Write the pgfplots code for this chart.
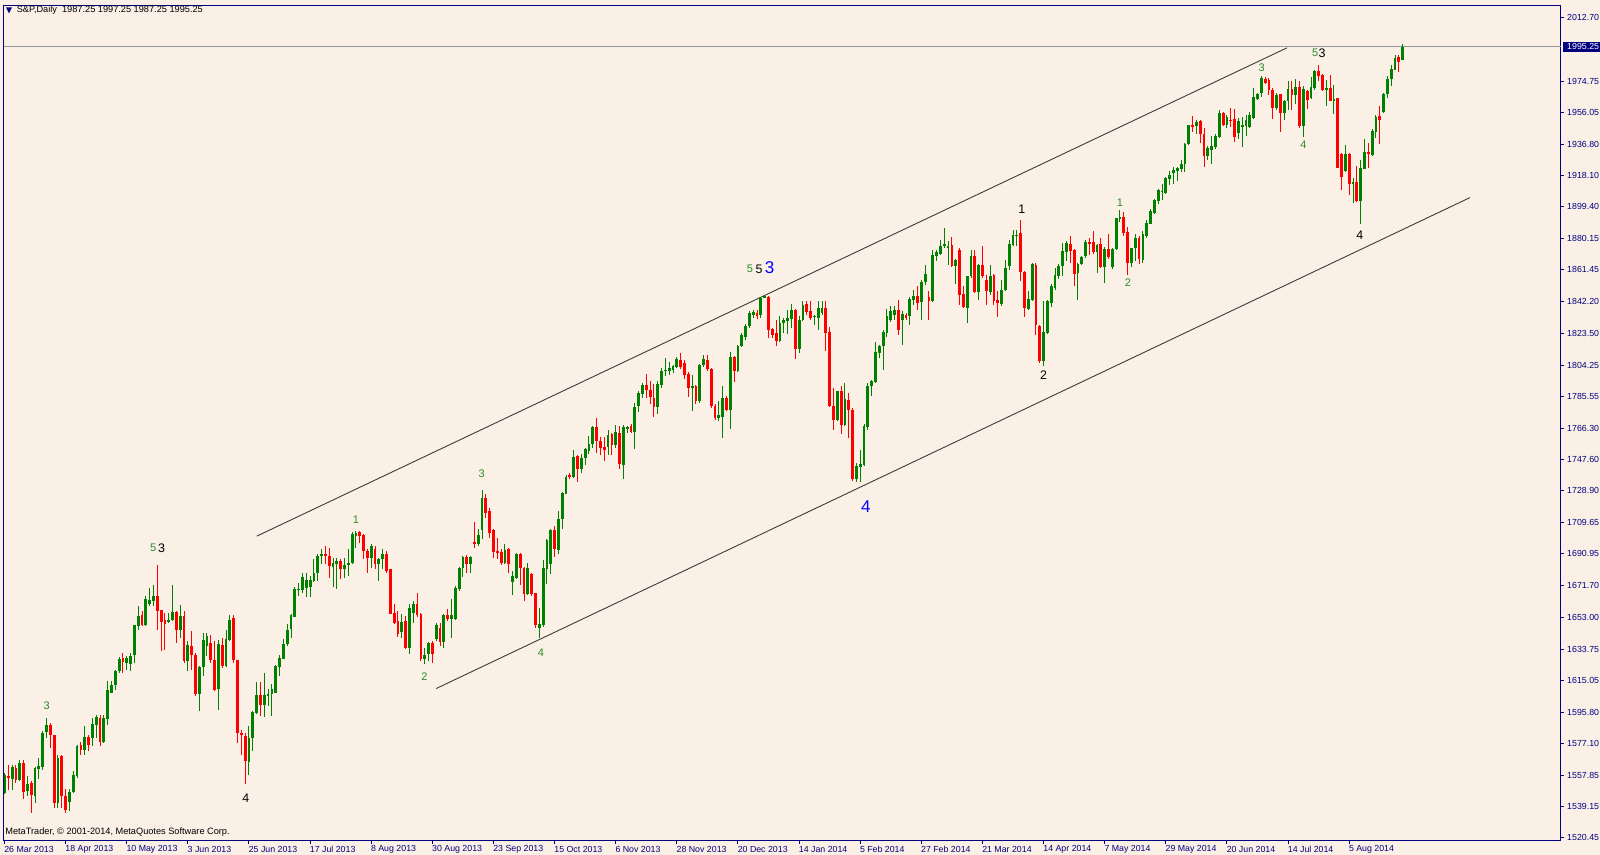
\documentclass[border=0pt]{standalone}
\usepackage{pgfplots}
\pgfplotsset{compat=1.18}
\usepackage{pgfplotstable}
\usepackage{fontspec}
\setmainfont{Liberation Sans}
\definecolor{bg}{RGB}{250,240,230}
\definecolor{navyc}{RGB}{0,0,128}
\definecolor{upc}{RGB}{0,128,0}
\definecolor{dnc}{RGB}{255,0,0}
\definecolor{wavegreen}{RGB}{40,140,40}
\definecolor{waveblue}{RGB}{0,0,255}
\definecolor{chan}{RGB}{60,60,60}
\definecolor{pline}{RGB}{150,150,160}
\pgfplotstableread{
i o h l c
0 1547.5 1559.5 1546.5 1558.0
1 1557.5 1564.5 1549.5 1557.0
2 1556.0 1564.5 1549.5 1563.0
3 1562.5 1564.5 1553.5 1555.0
4 1555.5 1567.5 1554.5 1565.5
5 1565.5 1567.5 1543.5 1548.0
6 1548.5 1557.5 1545.5 1553.0
7 1553.5 1554.5 1535.5 1546.0
8 1545.5 1563.0 1541.5 1562.5
9 1562.0 1568.5 1555.5 1563.5
10 1563.0 1584.5 1561.5 1583.5
11 1584.0 1592.5 1580.5 1588.0
12 1588.5 1589.5 1574.5 1582.0
13 1582.0 1582.5 1538.5 1541.5
14 1541.5 1570.0 1538.5 1568.5
15 1569.5 1570.0 1538.5 1545.5
16 1545.5 1549.5 1535.5 1537.5
17 1542.0 1549.5 1536.5 1548.0
18 1548.0 1560.5 1547.5 1558.0
19 1557.5 1576.5 1556.5 1575.5
20 1576.0 1578.0 1570.5 1573.5
21 1573.5 1587.5 1570.5 1581.0
22 1581.0 1582.0 1572.5 1576.5
23 1580.5 1592.5 1575.5 1589.0
24 1588.0 1594.5 1580.5 1593.0
25 1592.5 1594.5 1575.5 1578.0
26 1578.0 1594.0 1577.5 1592.5
27 1592.0 1614.5 1588.5 1609.0
28 1607.5 1614.5 1607.5 1612.5
29 1612.5 1621.5 1609.5 1620.5
30 1620.5 1629.0 1619.5 1628.0
31 1628.5 1631.5 1619.5 1626.0
32 1625.5 1629.5 1621.5 1628.5
33 1625.0 1631.5 1620.5 1629.5
34 1630.0 1648.5 1625.5 1648.0
35 1647.5 1659.5 1645.5 1653.5
36 1654.5 1656.5 1647.5 1648.5
37 1648.5 1665.5 1647.5 1664.0
38 1661.0 1670.5 1659.5 1663.5
39 1662.5 1672.5 1659.5 1665.5
40 1665.5 1684.5 1645.5 1656.5
41 1657.0 1657.5 1632.5 1650.0
42 1651.0 1655.5 1633.5 1649.0
43 1650.0 1655.5 1649.5 1651.5
44 1651.5 1672.5 1650.5 1656.0
45 1656.0 1656.5 1637.5 1645.0
46 1645.5 1660.5 1640.5 1653.5
47 1653.5 1656.5 1625.5 1626.5
48 1626.5 1638.5 1620.5 1636.5
49 1635.5 1644.5 1621.5 1630.0
50 1630.5 1631.5 1605.5 1607.0
51 1607.0 1623.5 1596.5 1623.0
52 1623.0 1643.5 1617.5 1639.5
53 1635.5 1643.5 1629.5 1641.5
54 1637.5 1642.5 1625.5 1627.5
55 1627.5 1638.5 1608.5 1609.5
56 1610.0 1639.0 1597.5 1637.0
57 1636.5 1640.5 1622.5 1623.5
58 1623.5 1645.5 1623.0 1640.0
59 1639.5 1654.5 1638.5 1651.5
60 1652.5 1654.5 1625.5 1627.5
61 1627.5 1627.5 1577.5 1583.5
62 1583.5 1585.5 1570.0 1582.5
63 1581.5 1583.5 1552.5 1566.5
64 1566.0 1587.5 1558.0 1580.5
65 1580.2 1596.6 1572.6 1596.0
66 1595.6 1614.0 1594.6 1606.0
67 1606.0 1614.0 1593.6 1600.0
68 1600.0 1619.6 1593.2 1606.0
69 1605.6 1609.6 1599.6 1607.0
70 1606.6 1612.6 1593.6 1610.0
71 1607.6 1624.0 1607.6 1623.6
72 1623.0 1630.0 1617.6 1628.6
73 1627.6 1639.6 1627.6 1637.0
74 1636.6 1648.6 1635.6 1645.0
75 1645.6 1654.6 1640.6 1654.0
76 1653.2 1671.0 1653.0 1669.6
77 1669.2 1673.6 1665.6 1670.0
78 1669.2 1679.6 1667.6 1677.0
79 1670.6 1679.6 1665.2 1675.2
80 1671.0 1677.6 1665.0 1675.2
81 1674.6 1688.0 1674.0 1679.6
82 1679.6 1690.6 1674.6 1689.6
83 1689.6 1693.6 1684.6 1690.6
84 1690.6 1695.6 1684.6 1689.6
85 1689.6 1694.6 1676.6 1683.6
86 1683.2 1688.6 1671.2 1685.2
87 1684.6 1688.6 1669.6 1686.6
88 1686.6 1688.0 1676.0 1681.6
89 1681.6 1688.6 1676.6 1684.0
90 1684.0 1693.6 1677.6 1685.2
91 1685.2 1704.0 1684.6 1702.6
92 1701.6 1704.6 1694.6 1703.2
93 1704.0 1704.6 1697.6 1701.6
94 1702.0 1702.6 1687.6 1692.6
95 1692.6 1693.6 1679.6 1688.6
96 1688.6 1696.6 1682.6 1695.6
97 1694.0 1695.6 1681.6 1684.6
98 1684.6 1688.6 1674.6 1688.0
99 1687.6 1693.6 1681.6 1690.6
100 1690.6 1692.6 1679.6 1680.6
101 1681.6 1682.0 1654.6 1654.6
102 1655.6 1660.6 1648.6 1649.6
103 1650.6 1656.6 1641.2 1642.6
104 1644.0 1654.6 1640.6 1650.0
105 1650.6 1653.6 1633.6 1634.6
106 1634.2 1660.6 1630.6 1658.6
107 1655.2 1662.6 1649.6 1661.0
108 1660.6 1667.6 1653.2 1654.0
109 1654.6 1655.2 1626.6 1627.6
110 1627.6 1634.6 1624.6 1630.0
111 1630.6 1638.0 1626.6 1637.6
112 1637.6 1638.6 1625.2 1630.6
113 1639.6 1649.2 1638.6 1648.0
114 1646.6 1649.2 1635.6 1638.0
115 1638.0 1654.6 1634.6 1654.0
116 1654.2 1657.6 1650.6 1651.6
117 1651.6 1663.6 1640.6 1654.2
118 1651.6 1671.6 1651.0 1670.2
119 1669.6 1683.0 1668.6 1682.2
120 1682.2 1689.6 1677.0 1689.2
121 1689.2 1690.0 1679.6 1684.6
122 1684.6 1689.6 1679.6 1689.2
123 1698.2 1710.2 1694.2 1696.6
124 1696.6 1705.6 1695.6 1702.2
125 1705.0 1729.0 1699.6 1724.6
126 1724.6 1726.6 1712.6 1715.6
127 1716.6 1718.6 1700.6 1703.6
128 1705.0 1705.6 1688.6 1692.2
129 1692.6 1700.6 1687.6 1691.6
130 1692.2 1693.6 1684.2 1685.6
131 1685.6 1697.0 1684.6 1693.0
132 1693.6 1694.6 1679.6 1684.6
133 1674.2 1680.6 1666.2 1677.6
134 1676.2 1691.6 1675.6 1691.0
135 1691.0 1691.6 1672.2 1682.6
136 1682.6 1683.0 1662.6 1666.6
137 1666.6 1685.6 1666.2 1682.6
138 1678.6 1679.6 1665.6 1666.6
139 1667.6 1667.6 1646.6 1648.2
140 1646.6 1658.2 1640.6 1648.6
141 1648.2 1687.0 1647.0 1682.2
142 1681.6 1699.6 1672.6 1699.2
143 1684.6 1705.6 1678.6 1705.0
144 1705.0 1707.6 1689.0 1693.6
145 1693.0 1716.6 1690.6 1711.6
146 1711.6 1728.2 1705.6 1727.6
147 1727.0 1738.2 1726.6 1737.0
148 1738.0 1739.6 1735.6 1737.0
149 1737.0 1753.6 1736.6 1749.0
150 1749.6 1750.6 1734.2 1741.6
151 1741.6 1751.0 1739.6 1748.6
152 1748.2 1754.6 1744.6 1753.6
153 1752.6 1761.6 1751.0 1756.6
154 1756.6 1767.6 1754.6 1767.0
155 1767.0 1772.6 1751.6 1758.6
156 1759.0 1761.0 1750.2 1754.6
157 1755.0 1761.0 1746.6 1753.6
158 1755.0 1765.6 1750.2 1762.6
159 1762.6 1763.6 1750.2 1756.2
160 1756.2 1768.6 1754.6 1764.2
161 1763.6 1767.6 1741.6 1745.0
162 1744.2 1768.2 1735.6 1767.0
163 1766.2 1767.6 1763.6 1767.0
164 1767.6 1769.0 1763.6 1764.2
165 1764.2 1781.6 1753.6 1779.0
166 1779.6 1788.6 1776.2 1787.6
167 1787.0 1793.6 1784.6 1792.6
168 1792.6 1799.0 1784.6 1789.6
169 1789.2 1794.6 1781.2 1785.2
170 1784.6 1793.2 1773.2 1779.2
171 1779.2 1794.6 1775.2 1793.2
172 1792.6 1802.6 1790.6 1800.6
173 1800.6 1808.6 1797.6 1801.6
174 1800.6 1806.0 1798.6 1802.6
175 1801.6 1804.6 1799.6 1803.6
176 1803.2 1809.2 1802.6 1808.0
177 1807.2 1811.6 1802.0 1803.2
178 1805.6 1807.2 1796.0 1798.6
179 1799.0 1800.0 1785.2 1790.6
180 1790.6 1798.6 1776.6 1792.0
181 1792.0 1792.6 1781.2 1782.6
182 1782.6 1805.2 1781.6 1804.6
183 1804.6 1810.6 1803.2 1808.0
184 1807.2 1810.6 1800.6 1802.2
185 1802.2 1802.6 1778.6 1779.6
186 1780.0 1781.2 1771.2 1772.6
187 1772.6 1782.6 1770.6 1774.6
188 1773.2 1791.6 1760.6 1784.6
189 1784.6 1785.6 1776.6 1777.2
190 1777.6 1812.0 1766.0 1809.2
191 1809.2 1810.0 1794.0 1800.6
192 1800.6 1816.6 1800.0 1816.0
193 1815.6 1823.6 1815.2 1822.6
194 1821.2 1829.2 1819.6 1828.0
195 1828.0 1836.6 1826.6 1835.6
196 1834.6 1837.6 1832.6 1836.0
197 1835.6 1837.2 1832.0 1833.6
198 1834.6 1845.2 1832.6 1844.6
199 1844.6 1846.0 1844.6 1845.6
200 1845.2 1846.0 1820.6 1825.6
201 1826.0 1826.6 1820.6 1822.6
202 1823.6 1831.6 1815.6 1818.6
203 1818.6 1834.0 1818.0 1829.6
204 1829.6 1832.6 1823.6 1831.2
205 1830.6 1837.6 1823.2 1832.6
206 1832.0 1841.2 1826.6 1837.2
207 1837.2 1838.0 1808.0 1814.0
208 1814.0 1833.6 1811.6 1831.6
209 1831.6 1842.6 1830.6 1840.6
210 1841.2 1842.6 1834.6 1836.0
211 1836.6 1842.6 1831.6 1832.6
212 1833.6 1834.6 1828.6 1833.6
213 1832.6 1842.6 1825.2 1838.6
214 1835.6 1842.6 1834.6 1838.6
215 1838.6 1842.6 1812.6 1823.6
216 1824.0 1827.2 1779.2 1779.6
217 1779.6 1790.6 1765.6 1771.6
218 1771.6 1788.6 1770.6 1788.6
219 1788.6 1791.6 1762.6 1768.6
220 1768.6 1793.6 1767.6 1784.0
221 1783.6 1787.6 1760.6 1777.6
222 1777.6 1778.6 1734.6 1735.6
223 1735.6 1745.6 1734.0 1744.0
224 1743.2 1753.2 1734.0 1745.2
225 1744.6 1769.2 1744.0 1767.6
226 1767.2 1793.6 1765.6 1792.0
227 1791.6 1795.6 1785.6 1794.6
228 1794.0 1818.0 1793.6 1812.0
229 1811.6 1816.6 1808.6 1816.0
230 1815.6 1825.6 1801.6 1824.0
231 1823.6 1838.0 1821.2 1834.0
232 1831.6 1839.6 1830.0 1836.6
233 1834.6 1839.6 1831.6 1837.2
234 1837.2 1843.6 1822.6 1825.2
235 1831.2 1836.6 1816.6 1835.2
236 1834.6 1835.6 1831.2 1832.6
237 1834.0 1845.2 1828.6 1844.0
238 1843.2 1849.6 1840.6 1846.0
239 1845.6 1852.0 1837.2 1841.6
240 1842.0 1855.2 1831.6 1854.0
241 1854.0 1864.6 1852.6 1859.2
242 1845.2 1848.6 1831.2 1842.6
243 1842.6 1873.6 1842.0 1870.6
244 1869.6 1873.6 1866.6 1872.0
245 1871.2 1879.6 1870.6 1876.0
246 1875.6 1886.6 1874.6 1877.2
247 1874.6 1878.6 1864.6 1876.0
248 1876.6 1881.2 1863.2 1863.6
249 1863.6 1868.0 1853.2 1867.6
250 1873.6 1874.6 1840.6 1846.6
251 1847.2 1852.0 1838.6 1839.2
252 1838.6 1858.0 1829.6 1857.6
253 1857.6 1873.2 1856.6 1870.0
254 1870.0 1873.6 1847.6 1848.0
255 1848.0 1865.2 1843.6 1864.6
256 1864.6 1875.6 1856.6 1857.6
257 1855.2 1858.6 1840.6 1848.6
258 1848.0 1864.6 1846.6 1858.0
259 1858.6 1859.2 1840.6 1842.6
260 1843.2 1848.6 1833.2 1841.6
261 1841.2 1855.6 1839.6 1849.2
262 1849.2 1867.6 1848.6 1862.6
263 1863.6 1879.6 1861.2 1877.2
264 1876.6 1885.6 1875.6 1882.6
265 1881.6 1885.6 1875.6 1882.6
266 1883.6 1891.6 1854.6 1860.0
267 1860.0 1860.6 1833.2 1838.6
268 1838.0 1848.6 1837.6 1844.0
269 1843.6 1865.6 1842.6 1865.2
270 1864.6 1865.6 1822.6 1828.6
271 1828.0 1828.6 1805.6 1806.6
272 1806.6 1842.6 1803.6 1824.0
273 1823.7 1843.1 1822.7 1842.7
274 1841.7 1852.7 1839.1 1851.7
275 1850.3 1862.7 1849.1 1858.3
276 1857.7 1864.7 1855.7 1863.7
277 1863.7 1877.7 1857.7 1872.7
278 1872.3 1878.7 1866.7 1877.7
279 1877.1 1881.7 1865.7 1872.7
280 1873.1 1873.7 1851.7 1858.7
281 1859.7 1865.7 1843.1 1865.1
282 1864.7 1869.7 1864.3 1869.1
283 1869.7 1879.1 1868.7 1878.3
284 1878.3 1880.7 1870.3 1877.1
285 1878.3 1884.7 1871.1 1872.3
286 1872.3 1877.1 1859.7 1876.3
287 1877.1 1880.3 1862.7 1863.1
288 1863.1 1875.1 1853.7 1873.7
289 1873.7 1882.7 1867.7 1869.1
290 1863.1 1874.7 1861.7 1873.7
291 1873.7 1892.7 1873.1 1892.3
292 1891.7 1897.1 1890.3 1893.1
293 1893.1 1896.3 1881.7 1883.7
294 1884.3 1887.1 1858.3 1865.7
295 1865.7 1874.7 1863.1 1874.7
296 1874.7 1883.1 1866.7 1880.3
297 1880.3 1881.7 1864.7 1867.7
298 1867.1 1884.7 1865.7 1882.7
299 1881.7 1891.1 1880.7 1889.7
300 1889.1 1897.7 1888.7 1896.7
301 1895.7 1903.7 1895.1 1903.1
302 1902.7 1909.7 1901.1 1909.1
303 1908.7 1913.1 1903.1 1908.7
304 1907.7 1917.1 1906.7 1916.3
305 1915.7 1920.7 1912.3 1918.3
306 1919.7 1923.1 1912.7 1921.1
307 1920.7 1923.1 1914.7 1922.3
308 1921.7 1927.1 1920.3 1925.1
309 1924.7 1937.7 1920.3 1937.1
310 1937.1 1948.7 1936.3 1948.3
311 1948.3 1953.7 1944.3 1947.1
312 1947.7 1951.1 1942.7 1950.3
313 1950.7 1951.7 1937.7 1942.7
314 1943.1 1946.3 1923.1 1929.7
315 1929.7 1935.7 1927.1 1934.7
316 1933.1 1941.7 1925.1 1935.7
317 1935.1 1942.7 1933.7 1941.7
318 1941.1 1957.1 1940.7 1955.7
319 1955.7 1956.3 1947.7 1948.3
320 1948.3 1954.7 1946.3 1953.1
321 1951.7 1958.3 1947.1 1951.1
322 1951.7 1958.3 1938.3 1941.1
323 1943.7 1952.3 1939.7 1951.1
324 1948.0 1953.1 1935.1 1948.0
325 1947.7 1954.3 1941.7 1951.5
326 1947.1 1956.3 1946.3 1954.3
327 1952.3 1970.7 1951.7 1965.1
328 1963.7 1967.7 1963.1 1966.7
329 1967.7 1977.7 1965.1 1976.7
330 1976.3 1977.1 1973.1 1973.7
331 1975.7 1976.7 1966.3 1969.7
332 1969.7 1970.7 1951.7 1958.7
333 1958.7 1967.7 1957.7 1966.7
334 1966.7 1967.1 1944.3 1955.7
335 1955.7 1963.7 1951.7 1962.7
336 1962.7 1974.7 1957.1 1970.3
337 1970.3 1975.1 1957.1 1966.7
338 1966.7 1976.3 1961.1 1971.1
339 1971.1 1974.7 1946.7 1947.7
340 1947.7 1971.7 1941.1 1970.3
341 1968.7 1969.7 1957.7 1963.7
342 1964.3 1977.1 1963.7 1971.1
343 1970.7 1981.7 1969.7 1980.7
344 1980.7 1984.7 1975.1 1977.7
345 1978.3 1979.1 1968.7 1969.7
346 1969.7 1975.7 1959.7 1970.7
347 1970.7 1978.3 1962.7 1963.1
348 1962.7 1972.7 1955.1 1964.3
349 1964.3 1964.7 1922.3 1922.7
350 1930.7 1931.7 1909.1 1917.1
351 1920.7 1936.3 1920.3 1930.7
352 1930.7 1931.7 1906.3 1912.7
353 1912.7 1916.7 1901.7 1914.3
354 1914.3 1923.7 1902.3 1902.7
355 1902.7 1927.1 1889.1 1922.7
356 1922.1 1939.7 1921.7 1932.3
357 1932.3 1937.7 1922.7 1930.7
358 1930.3 1945.7 1929.7 1944.7
359 1944.3 1954.3 1940.7 1953.1
360 1953.7 1959.7 1936.7 1951.1
361 1956.3 1967.7 1955.7 1967.1
362 1966.7 1977.7 1964.7 1976.3
363 1976.1 1984.7 1971.7 1982.1
364 1981.7 1990.7 1981.3 1988.7
365 1989.3 1990.7 1980.1 1986.3
366 1987.25 1997.25 1987.25 1995.25
}\bars
\newcommand{\tf}{\fontsize{4.4}{5}\selectfont}
\newcommand{\hf}{\fontsize{4.6}{5}\selectfont}
\pgfplotsset{candle/.style={draw=none, mark=none, no markers, forget plot,
  restrict x to domain=-5:500}}
\begin{document}
\begin{tikzpicture}[x=1pt,y=1pt]
\useasboundingbox (0,0) rectangle (800,427.5);
\fill[bg] (0,0) rectangle (800,427.5);
\begin{axis}[
  at={(1,8.65)}, anchor=south west,
  scale only axis, width=778.5pt, height=417.5pt,
  xmin=-0.18, xmax=407.4, ymin=1518.83, ymax=2020.08,
  clip mode=individual,
  axis line style={draw=navyc, line width=0.5pt},
  tick align=outside,
  major tick length=1.6pt,
  tick style={draw=navyc, line width=0.5pt},
  xtick pos=left, ytick pos=right, yticklabel pos=right,
  ytick={1520.45,1539.15,1557.85,1577.10,1595.80,1615.05,1633.75,1653.00,1671.70,1690.95,1709.65,1728.90,1747.60,1766.30,1785.55,1804.25,1823.50,1842.20,1861.45,1880.15,1899.40,1918.10,1936.80,1956.05,1974.75,2012.70},
  yticklabels={1520.45,1539.15,1557.85,1577.10,1595.80,1615.05,1633.75,1653.00,1671.70,1690.95,1709.65,1728.90,1747.60,1766.30,1785.55,1804.25,1823.50,1842.20,1861.45,1880.15,1899.40,1918.10,1936.80,1956.05,1974.75,2012.70},
  xtick={0,16,32,48,64,80,96,112,128,144,160,176,192,208,224,240,256,272,288,304,320,336,352},
  xticklabels={26 Mar 2013,18 Apr 2013,10 May 2013,3 Jun 2013,25 Jun 2013,17 Jul 2013,8 Aug 2013,30 Aug 2013,23 Sep 2013,15 Oct 2013,6 Nov 2013,28 Nov 2013,20 Dec 2013,14 Jan 2014,5 Feb 2014,27 Feb 2014,21 Mar 2014,14 Apr 2014,7 May 2014,29 May 2014,20 Jun 2014,14 Jul 2014,5 Aug 2014},
  yticklabel style={font=\tf, text=navyc, anchor=west, inner sep=0pt, xshift=1.4pt},
  xticklabel style={font=\tf, text=navyc, anchor=west, inner sep=0pt, yshift=-2.6pt, xshift=-0.3pt},
]
% current price line
\addplot[pline, line width=0.5pt, forget plot] coordinates {(-1,1995.25) (410,1995.25)};
% channel
\addplot[chan, line width=0.45pt, forget plot] coordinates {(66.05,1701.6) (335.7,1994.7)};
\addplot[chan, line width=0.45pt, forget plot] coordinates {(113.0,1610.1) (383.6,1904.8)};
% wicks up
\addplot[candle,
  error bars/.cd, y dir=both, y explicit, error mark=none,
  error bar style={line width=0.5pt, draw=upc}]
  table[x expr={\thisrow{c}>=\thisrow{o} ? \thisrow{i} : -1000},
        y expr={(\thisrow{h}+\thisrow{l})/2},
        y error expr={(\thisrow{h}-\thisrow{l})/2}] {\bars};
% wicks down
\addplot[candle,
  error bars/.cd, y dir=both, y explicit, error mark=none,
  error bar style={line width=0.5pt, draw=dnc}]
  table[x expr={\thisrow{c}<\thisrow{o} ? \thisrow{i} : -1000},
        y expr={(\thisrow{h}+\thisrow{l})/2},
        y error expr={(\thisrow{h}-\thisrow{l})/2}] {\bars};
% bodies up
\addplot[candle,
  error bars/.cd, y dir=both, y explicit, error mark=none,
  error bar style={line width=1.4pt, draw=upc}]
  table[x expr={\thisrow{c}>=\thisrow{o} ? \thisrow{i} : -1000},
        y expr={(\thisrow{o}+\thisrow{c})/2},
        y error expr={max(abs(\thisrow{c}-\thisrow{o})/2,0.3)}] {\bars};
% bodies down
\addplot[candle,
  error bars/.cd, y dir=both, y explicit, error mark=none,
  error bar style={line width=1.4pt, draw=dnc}]
  table[x expr={\thisrow{c}<\thisrow{o} ? \thisrow{i} : -1000},
        y expr={(\thisrow{o}+\thisrow{c})/2},
        y error expr={max(abs(\thisrow{c}-\thisrow{o})/2,0.3)}] {\bars};
% wave labels
\tikzset{wl/.style={inner sep=0pt, font=\fontsize{5.5}{6}\selectfont},
         wb/.style={inner sep=0pt, font=\fontsize{6.2}{7}\selectfont, text=black},
         wbl/.style={inner sep=0pt, font=\fontsize{8.5}{9}\selectfont, text=waveblue}}
\node[wl, text=wavegreen] at (axis cs:11.07,1599.7) {3};
\node[wl, text=wavegreen] at (axis cs:38.9,1694.5) {5};
\node[wb] at (axis cs:41.1,1694.5) {3};
\node[wb] at (axis cs:63.2,1544.5) {4};
\node[wl, text=wavegreen] at (axis cs:92.0,1711.5) {1};
\node[wl, text=wavegreen] at (axis cs:109.9,1617.1) {2};
\node[wl, text=wavegreen] at (axis cs:124.9,1739.0) {3};
\node[wl, text=wavegreen] at (axis cs:140.4,1631.5) {4};
\node[wl, text=wavegreen] at (axis cs:195.1,1862.0) {5};
\node[wb] at (axis cs:197.5,1862.0) {5};
\node[wbl] at (axis cs:200.3,1862.5) {3};
\node[wbl] at (axis cs:225.5,1719.2) {4};
\node[wb] at (axis cs:266.3,1898.0) {1};
\node[wb] at (axis cs:272.0,1798.0) {2};
\node[wl, text=wavegreen] at (axis cs:292.0,1901.6) {1};
\node[wl, text=wavegreen] at (axis cs:294.1,1853.6) {2};
\node[wl, text=wavegreen] at (axis cs:329.1,1982.7) {3};
\node[wl, text=wavegreen] at (axis cs:343.1,1991.7) {5};
\node[wb] at (axis cs:344.9,1991.7) {3};
\node[wl, text=wavegreen] at (axis cs:340.0,1936.5) {4};
\node[wb] at (axis cs:354.8,1882.4) {4};
% current price box
\node[anchor=west, fill=navyc, text=white, font=\tf, inner xsep=2pt, inner ysep=0pt, minimum height=4.6pt, xshift=1pt] at (axis cs:407.4,1995.25) {1995.25};
\end{axis}
% title and footer
\fill[navyc] (3,423.8) -- (6,423.8) -- (4.5,420.8) -- cycle;
\node[anchor=west, inner sep=0pt, font=\hf] at (8.2,422.2) {S\&P,Daily\ \ 1987.25 1997.25 1987.25 1995.25};
\node[anchor=west, inner sep=0pt, font=\hf] at (2.5,11.25) {MetaTrader, © 2001-2014, MetaQuotes Software Corp.};
\end{tikzpicture}
\end{document}
